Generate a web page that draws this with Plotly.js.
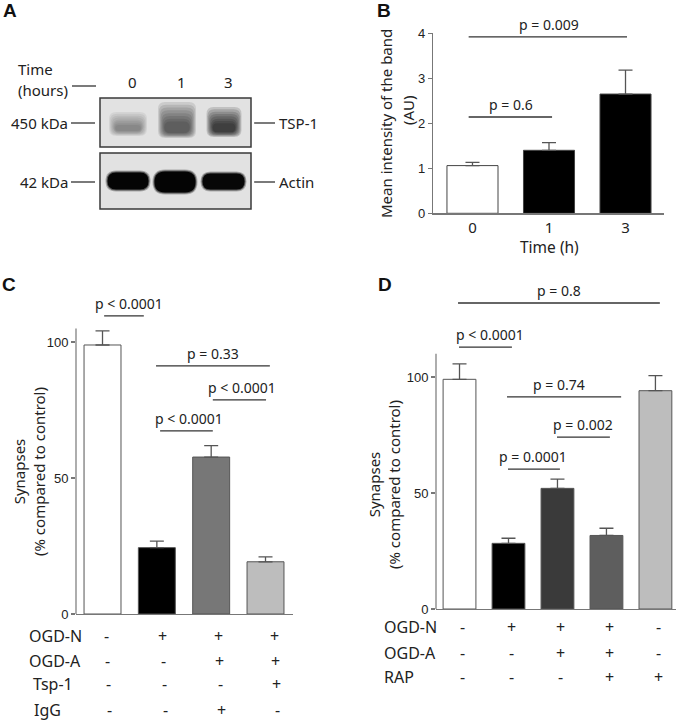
<!DOCTYPE html>
<html><head><meta charset="utf-8">
<script src="https://cdn.plot.ly/plotly-3.0.1.min.js"></script>
<style>html,body{margin:0;padding:0;background:#fff}</style>
</head><body><div id="chart" style="width:682px;height:720px"></div>
<script>
// ---------- DATA ----------
// Panel A (western blot)
const laneLabels = ['0', '1', '3'];
const tspIntensity = [0.35, 0.6, 0.85];
const actinIntensity = [1.0, 1.0, 0.97];
const blotRows = ['TSP-1', 'Actin'];
const markerLabels = ['450 kDa', '42 kDa'];
// Panel B
const timeLabels = ['0', '1', '3'];
const bandMean = [1.06, 1.40, 2.65];
const bandErr = [0.07, 0.17, 0.53];
const sigBLabels = ['p = 0.009', 'p = 0.6'];
// Panel C
const synC = [98.9, 24.4, 57.7, 19.2];
const synCErr = [5.2, 2.4, 4.2, 1.8];
const rowsC = ['OGD-N', 'OGD-A', 'Tsp-1', 'IgG'];
const tableC = [['-', '+', '+', '+'], ['-', '-', '+', '+'], ['-', '-', '-', '+'], ['-', '-', '+', '-']];
const sigCLabels = ['p < 0.0001', 'p = 0.33', 'p < 0.0001', 'p < 0.0001'];
// Panel D
const synD = [99.0, 28.3, 52.0, 31.7, 94.1];
const synDErr = [6.7, 2.2, 4.0, 3.1, 6.5];
const rowsD = ['OGD-N', 'OGD-A', 'RAP'];
const tableD = [['-', '+', '+', '+', '-'], ['-', '-', '+', '+', '-'], ['-', '-', '-', '+', '+']];
const sigDLabels = ['p = 0.8', 'p < 0.0001', 'p = 0.74', 'p = 0.002', 'p = 0.0001'];

// ---------- LAYOUT HELPERS ----------
const W = 682, H = 720;
const PX = x => x / W;
const PY = y => 1 - y / H;
const TXT = '#222';
const SANS = 'Noto Sans, Open Sans, sans-serif';
const ARIAL = 'Liberation Sans, Arial, sans-serif';
const annotations = [];
const shapes = [];

function ann(text, x, y, o) {
  annotations.push(Object.assign({
    text: text, x: x, y: y, xref: 'paper', yref: 'paper', showarrow: false,
    xanchor: 'center', yanchor: 'middle', borderpad: 0,
    font: {family: SANS, size: 15, color: TXT}
  }, o || {}));
}
function pline(x0, y0, x1, y1, w) {
  shapes.push({type: 'line', xref: 'paper', yref: 'paper', x0: PX(x0), x1: PX(x1), y0: PY(y0), y1: PY(y1),
    line: {color: '#222', width: w || 1.2}});
}
function roundRect(x0, y0, x1, y1, r, color, opacity) {
  r = Math.min(r, (y1 - y0) / 2, (x1 - x0) / 2);
  const p = (x, y) => PX(x) + ',' + PY(y);
  const path = 'M' + p(x0 + r, y0) + ' L' + p(x1 - r, y0) + ' Q' + p(x1, y0) + ' ' + p(x1, y0 + r) +
    ' L' + p(x1, y1 - r) + ' Q' + p(x1, y1) + ' ' + p(x1 - r, y1) +
    ' L' + p(x0 + r, y1) + ' Q' + p(x0, y1) + ' ' + p(x0, y1 - r) +
    ' L' + p(x0, y0 + r) + ' Q' + p(x0, y0) + ' ' + p(x0 + r, y0) + ' Z';
  shapes.push({type: 'path', xref: 'paper', yref: 'paper', path: path, fillcolor: color,
    opacity: opacity, line: {width: 0}, layer: 'above'});
}

// ---------- PANEL LETTERS ----------
[['A', 10, 11], ['B', 384, 11], ['C', 9, 285], ['D', 385, 285]].forEach(l =>
  ann('<b>' + l[0] + '</b>', PX(l[1]), PY(l[2]), {font: {family: ARIAL, size: 19, color: '#111'}}));

// ---------- PANEL A ----------
const boxes = [[98, 147], [153, 209]];
boxes.forEach(b => shapes.push({type: 'rect', xref: 'paper', yref: 'paper', x0: PX(100), x1: PX(251),
  y0: PY(b[0]), y1: PY(b[1]), fillcolor: '#e2e2e2', line: {color: '#3a3a3a', width: 1.5}, layer: 'below'}));
ann('Time', PX(17), PY(69), {xanchor: 'left'});
ann('(hours)', PX(17), PY(90), {xanchor: 'left'});
pline(72, 86, 96, 86);
const laneX = [128, 177, 224];
laneLabels.forEach((l, i) => ann(l, PX(laneX[i] + 4), PY(82)));
const rowY = [123, 182];
markerLabels.forEach((m, i) => {
  ann(m, PX(69), PY(rowY[i]), {xanchor: 'right'});
  pline(71, rowY[i], 95, rowY[i]);
});
blotRows.forEach((r, i) => {
  ann(r, PX(278), PY(rowY[i]), {xanchor: 'left'});
  pline(254, rowY[i], 275, rowY[i]);
});
// TSP-1 bands (fuzzy, many soft layers)
const tspTop = [112, 102, 107], tspBot = [136, 138, 137], tspHalfW = [19, 19, 17.5];
tspIntensity.forEach((k, i) => {
  const cx = laneX[i], t = tspTop[i], b = tspBot[i], hw = tspHalfW[i], h = b - t;
  const n = 8;
  for (let j = 0; j < n; j++) {
    const f = j / n;
    roundRect(cx - hw + j * 0.9, t + h * 0.62 * f, cx + hw - j * 0.9, b - j * 0.7, 7, '#000', 0.17 * k);
  }
});
// Actin bands
const actTop = [172, 171, 173], actBot = [190, 193, 190], actHalfW = [21, 21, 21.5];
const actX = [128, 175, 223.5];
actinIntensity.forEach((k, i) => {
  const cx = actX[i], t = actTop[i], b = actBot[i], hw = actHalfW[i], h = b - t;
  roundRect(cx - hw - 1.5, t - 1.5, cx + hw + 1.5, b + 1.5, h / 2 + 1.5, '#000', 0.25 * k);
  roundRect(cx - hw - 0.5, t - 0.5, cx + hw + 0.5, b + 0.5, h / 2 + 0.5, '#000', 0.5 * k);
  roundRect(cx - hw + 0.5, t + 0.5, cx + hw - 0.5, b - 0.5, h / 2 - 0.5, '#000', 0.95 * k);
});

// ---------- COMMON AXIS STYLE ----------
function yax(domain, range, tickvals, anchor, showline) {
  return {domain: domain, range: range, tickvals: tickvals, anchor: anchor, showline: showline,
    linecolor: '#777', linewidth: 1.2, ticks: 'outside', ticklen: 4, tickcolor: '#777', tickwidth: 1.2,
    tickfont: {family: ARIAL, size: 13, color: TXT}, showgrid: false, zeroline: false, fixedrange: true};
}
function xax(domain, range, anchor) {
  return {domain: domain, range: range, anchor: anchor, showline: true, linecolor: '#777', linewidth: 1.2,
    ticks: '', showticklabels: false, showgrid: false, zeroline: false, fixedrange: true};
}
function errY(arr) {
  return {type: 'data', array: arr, arrayminus: arr.map(() => 0), symmetric: false,
    color: '#555', thickness: 1.3, width: 7};
}
function sig(xref, yref, x0, x1, y, label, tx) {
  shapes.push({type: 'line', xref: xref, yref: yref, x0: x0, x1: x1, y0: y, y1: y,
    line: {color: '#333', width: 1.3}});
  annotations.push({text: label, x: tx, y: y, xref: xref, yref: yref, showarrow: false,
    xanchor: 'center', yanchor: 'middle', yshift: 12.5, font: {family: SANS, size: 14, color: TXT}});
}
function sym(text, x, xref, y, xshift) {
  annotations.push({text: text, x: x, y: y, xref: xref, yref: 'paper', xanchor: 'center', yanchor: 'middle',
    xshift: xshift, showarrow: false, font: {family: SANS, size: 16, color: TXT}});
}

// ---------- PANEL B ----------
const xB = timeLabels.map((_, i) => i);
const traceB = {type: 'bar', x: xB, y: bandMean, width: 0.667, xaxis: 'x', yaxis: 'y',
  marker: {color: ['#ffffff', '#000000', '#000000'], line: {color: '#444', width: 1}},
  error_y: errY(bandErr)};
sig('x', 'y', -0.05, 2.02, 3.92, sigBLabels[0], 1.0);
sig('x', 'y', -0.05, 1.04, 2.14, sigBLabels[1], 0.5);
ann('Mean intensity of the band', PX(386), PY(124), {textangle: -90});
ann('(AU)', PX(408), PY(110), {textangle: -90});
ann('Time (h)', PX(549), PY(247), {font: {family: SANS, size: 15.5, color: TXT}});

// ---------- PANEL C ----------
const xC = synC.map((_, i) => i);
const traceC = {type: 'bar', x: xC, y: synC, width: 0.68, xaxis: 'x2', yaxis: 'y2',
  marker: {color: ['#ffffff', '#000000', '#777777', '#bdbdbd'], line: {color: '#555', width: 1}},
  error_y: errY(synCErr)};
const yMaxC = 115;
shapes.push({type: 'line', xref: 'x2 domain', yref: 'y2 domain', x0: 0, x1: 0, y0: 0, y1: 105 / yMaxC,
  line: {color: '#777', width: 1.2}});
sig('x2', 'y2', 0.03, 0.76, 109.6, sigCLabels[0], 0.48);
sig('x2', 'y2', 0.985, 3.08, 91.2, sigCLabels[1], 2.03);
sig('x2', 'y2', 2.03, 3.01, 78.7, sigCLabels[2], 2.57);
sig('x2', 'y2', 1.06, 2.03, 67.3, sigCLabels[3], 1.59);
ann('Synapses<br>(% compared to control)', PX(29), PY(472), {textangle: -90});
const rowYC = [636, 661, 684, 710];
const rowXC = [28, 28, 32, 33];
rowsC.forEach((r, ri) => {
  ann(r, PX(rowXC[ri]), PY(rowYC[ri]), {xanchor: 'left', font: {family: SANS, size: 16, color: TXT}});
  tableC[ri].forEach((s, ci) => sym(s, ci, 'x2', PY(rowYC[ri]), 4 + ci * 1.5 + ri));
});

// ---------- PANEL D ----------
const xD = synD.map((_, i) => i);
const traceD = {type: 'bar', x: xD, y: synD, width: 0.67, xaxis: 'x3', yaxis: 'y3',
  marker: {color: ['#ffffff', '#000000', '#3a3a3a', '#5e5e5e', '#bdbdbd'], line: {color: '#555', width: 1}},
  error_y: errY(synDErr)};
const yMaxD = 135;
shapes.push({type: 'line', xref: 'x3 domain', yref: 'y3 domain', x0: 0, x1: 0, y0: 0, y1: 110 / yMaxD,
  line: {color: '#777', width: 1.2}});
sig('x3', 'y3', -0.03, 4.09, 131.9, sigDLabels[0], 2.03);
sig('x3', 'y3', -0.01, 1.07, 112.9, sigDLabels[1], 0.62);
sig('x3', 'y3', 0.97, 3.3, 91.4, sigDLabels[2], 2.03);
sig('x3', 'y3', 1.99, 3.07, 74.1, sigDLabels[3], 2.52);
sig('x3', 'y3', 0.99, 2.05, 60.3, sigDLabels[4], 1.5);
ann('Synapses<br>(% compared to control)', PX(384), PY(485), {textangle: -90});
const rowYD = [627, 653, 677];
rowsD.forEach((r, ri) => {
  ann(r, PX(383), PY(rowYD[ri]), {xanchor: 'left', font: {family: SANS, size: 16, color: TXT}});
  tableD[ri].forEach((s, ci) => sym(s, ci, 'x3', PY(rowYD[ri]), 3));
});

// ---------- LAYOUT ----------
const layout = {
  width: W, height: H, margin: {l: 0, r: 0, t: 0, b: 0},
  paper_bgcolor: '#fff', plot_bgcolor: 'rgba(0,0,0,0)', showlegend: false, hovermode: false,
  font: {family: SANS, color: TXT},
  xaxis: Object.assign(xax([PX(433), PX(664)], [-0.516, 2.503], 'y'),
    {showticklabels: true, tickvals: xB, ticktext: timeLabels, tickfont: {family: SANS, size: 15, color: TXT}}),
  yaxis: yax([PY(213.3), PY(33.3)], [0, 4], [0, 1, 2, 3, 4], 'x', true),
  xaxis2: xax([PX(76), PX(293)], [-0.488, 3.506], 'y2'),
  yaxis2: yax([PY(614), PY(614 - yMaxC * 2.72)], [0, yMaxC], [0, 50, 100], 'x2', false),
  xaxis3: xax([PX(436), PX(676)], [-0.48, 4.42], 'y3'),
  yaxis3: yax([PY(609), PY(609 - yMaxD * 2.32)], [0, yMaxD], [0, 50, 100], 'x3', false),
  shapes: shapes, annotations: annotations
};
Plotly.newPlot('chart', [traceB, traceC, traceD], layout, {staticPlot: true, displayModeBar: false});
</script>
</body></html>
